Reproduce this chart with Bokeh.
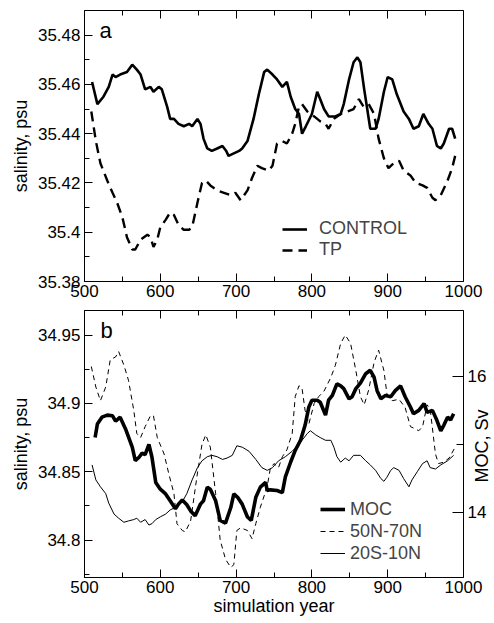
import math
from bokeh.plotting import figure
from bokeh.layouts import column
from bokeh.models import (Range1d, LinearAxis, FixedTicker, CustomJSTickFormatter,
                          Legend, LegendItem, Label)
from bokeh.embed import file_html
from bokeh.resources import INLINE

# ---------------- data ----------------
ctl_year = [510,517,525,532,537,541,547,556,563,569,574,580,587,591,598,602,609,613,618,624,
            631,638,642,649,653,657,662,668,675,682,687,690,697,704,708,715,723,730,737,741,
            748,754,761,767,772,778,783,787,792,800,807,811,816,822,831,838,842,849,855,860,
            864,869,873,877,884,888,895,900,906,912,921,928,934,941,947,954,959,965,970,974,
            981,985,989]
ctl_sal = [35.461,35.452,35.455,35.459,35.464,35.463,35.464,35.465,35.468,35.466,
           35.464,35.458,35.459,35.457,35.459,35.458,35.451,35.446,35.446,35.444,
           35.443,35.444,35.443,35.446,35.444,35.438,35.434,35.433,35.434,35.435,
           35.433,35.431,35.432,35.433,35.434,35.437,35.446,35.456,35.465,35.466,
           35.464,35.462,35.459,35.461,35.455,35.450,35.448,35.440,35.443,35.448,
           35.457,35.454,35.450,35.447,35.447,35.448,35.452,35.462,35.469,35.471,
           35.469,35.458,35.450,35.442,35.442,35.446,35.457,35.463,35.462,35.456,
           35.449,35.446,35.442,35.443,35.448,35.444,35.442,35.435,35.434,35.436,
           35.442,35.442,35.438]

tp_year = [509,515,521,530,537,543,550,556,563,567,574,583,587,591,596,600,607,613,618,624,
           631,638,642,649,655,660,666,675,684,693,699,706,715,721,728,734,743,748,754,761,
           767,774,778,783,787,794,803,811,818,822,829,838,847,855,862,868,875,882,888,895,
           901,908,915,921,930,937,946,952,959,963,970,979,985,989]
tp_sal = [35.449,35.437,35.428,35.421,35.416,35.412,35.406,35.398,35.393,35.393,
          35.397,35.399,35.398,35.394,35.397,35.402,35.405,35.408,35.407,35.403,
          35.401,35.401,35.402,35.412,35.420,35.421,35.419,35.417,35.416,35.415,
          35.416,35.413,35.417,35.422,35.427,35.426,35.425,35.427,35.436,35.437,
          35.436,35.440,35.444,35.451,35.452,35.449,35.447,35.445,35.444,35.442,
          35.446,35.448,35.449,35.450,35.454,35.451,35.452,35.448,35.438,35.430,
          35.426,35.428,35.429,35.425,35.423,35.420,35.419,35.418,35.414,35.413,
          35.415,35.421,35.426,35.431]

moc_year = [514,517,523,530,537,541,547,554,563,567,572,576,580,585,589,594,600,607,613,620,
            624,629,635,640,646,653,657,662,666,673,679,686,693,697,702,708,715,720,726,732,
            739,741,745,754,761,765,772,778,785,791,796,800,807,811,818,822,827,833,838,842,
            849,853,858,864,871,877,882,886,891,897,904,910,917,923,930,934,941,948,952,959,
            965,970,974,979,983,987]
moc_sv = [15.10,15.30,15.40,15.43,15.42,15.34,15.40,15.23,14.96,14.76,
          14.81,14.87,14.85,15.00,14.81,14.44,14.34,14.27,14.17,14.05,
          14.12,14.18,14.11,14.02,13.95,14.12,14.17,14.37,14.34,14.17,
          13.88,13.84,14.07,14.27,14.22,14.12,13.93,13.88,14.22,14.37,
          14.44,14.32,14.33,14.32,14.29,14.52,14.74,14.91,15.06,15.28,
          15.55,15.65,15.65,15.62,15.43,15.65,15.72,15.89,15.86,15.82,
          15.67,15.70,15.82,15.90,16.04,16.09,15.99,15.79,15.67,15.72,
          15.70,15.79,15.86,15.70,15.55,15.45,15.50,15.60,15.47,15.50,
          15.35,15.20,15.28,15.40,15.36,15.45]

n_year = [509,515,521,528,534,541,545,552,558,565,569,574,580,587,591,596,605,611,618,622,
          629,633,640,649,655,660,666,673,679,686,693,697,701,706,715,721,726,732,741,745,
          750,756,761,767,774,778,783,787,791,796,803,809,816,825,831,838,844,851,858,864,
          869,875,882,888,895,899,906,915,923,930,934,941,946,952,956,963,967,974,981,989]
n_sal = [34.927,34.912,34.902,34.912,34.932,34.934,34.938,34.928,34.917,34.895,
         34.878,34.875,34.883,34.891,34.891,34.875,34.863,34.849,34.834,34.812,
         34.807,34.806,34.814,34.849,34.870,34.877,34.868,34.834,34.800,34.786,
         34.780,34.782,34.807,34.809,34.807,34.801,34.812,34.824,34.839,34.852,
         34.856,34.853,34.861,34.866,34.878,34.905,34.913,34.911,34.895,34.885,
         34.900,34.905,34.909,34.919,34.928,34.944,34.950,34.944,34.924,34.905,
         34.899,34.910,34.930,34.939,34.924,34.907,34.902,34.903,34.897,34.883,
         34.882,34.880,34.883,34.899,34.896,34.863,34.856,34.857,34.860,34.868]

s_year = [510,515,521,528,532,539,545,552,558,565,569,574,580,585,589,594,600,607,613,620,
          629,635,642,649,655,662,668,675,682,688,695,701,708,717,726,734,741,748,756,765,
          774,781,787,794,798,805,811,818,825,829,833,838,844,849,855,864,871,877,884,891,
          895,899,904,908,915,921,928,932,939,946,952,956,963,970,979,987]
s_sal = [34.855,34.844,34.839,34.834,34.827,34.819,34.816,34.813,34.814,34.815,
         34.816,34.813,34.815,34.811,34.812,34.815,34.817,34.819,34.822,34.824,
         34.828,34.834,34.844,34.853,34.858,34.861,34.862,34.861,34.859,34.860,
         34.862,34.869,34.868,34.865,34.859,34.853,34.851,34.853,34.858,34.861,
         34.865,34.869,34.873,34.878,34.880,34.877,34.875,34.873,34.873,34.868,
         34.861,34.857,34.860,34.858,34.862,34.862,34.858,34.855,34.851,34.845,
         34.843,34.846,34.851,34.853,34.851,34.845,34.839,34.844,34.850,34.856,
         34.858,34.853,34.852,34.855,34.858,34.862]

x_ticks = [500, 600, 700, 800, 900, 1000]
x_minor = [550, 650, 750, 850, 950]
a_ticks = [35.38, 35.40, 35.42, 35.44, 35.46, 35.48]
a_minor = [35.39, 35.41, 35.43, 35.45, 35.47]
b_ticks = [34.80, 34.85, 34.90, 34.95]
b_minor = [34.775, 34.825, 34.875, 34.925]
moc_ticks = [14, 16]
moc_minor = [15]

FONT = "Liberation Sans"
fmt_code = "var s = tick.toFixed(3); s = s.replace(/0+$/, ''); s = s.replace(/\\.$/, ''); return s;"


def style_axis(ax, tick_in=8, minor_in=5):
    ax.major_tick_in = tick_in
    ax.major_tick_out = 0
    ax.minor_tick_in = minor_in
    ax.minor_tick_out = 0
    ax.axis_line_color = "black"
    ax.major_tick_line_color = "black"
    ax.minor_tick_line_color = "black"
    ax.major_label_text_font = FONT
    ax.major_label_text_font_size = "17px"
    ax.major_label_text_color = "black"
    ax.axis_label_text_font = FONT
    ax.axis_label_text_font_size = "18px"
    ax.axis_label_text_font_style = "normal"
    ax.axis_label_text_color = "black"


def tick_only_axis(p, ticks, length, place):
    # an axis that carries only (minor) tick marks and no text
    ax = LinearAxis(ticker=FixedTicker(ticks=[], minor_ticks=ticks))
    ax.axis_line_color = None
    ax.major_tick_line_color = None
    ax.minor_tick_in = length
    ax.minor_tick_out = 0
    ax.minor_tick_line_color = "black"
    ax.major_label_standoff = 0
    p.add_layout(ax, place)


def base_fig(height, yr, b_top, b_bottom, b_right):
    p = figure(frame_width=379, frame_height=height, x_range=Range1d(500, 1000), y_range=yr,
               output_backend="svg", toolbar_location=None, x_axis_location=None,
               y_axis_location=None, min_border_left=84, min_border_top=b_top,
               min_border_bottom=b_bottom, min_border_right=b_right)
    p.xgrid.visible = False
    p.ygrid.visible = False
    p.outline_line_color = "black"
    p.outline_line_width = 1
    p.background_fill_color = "white"
    p.border_fill_color = "white"
    xb = LinearAxis(ticker=FixedTicker(ticks=x_ticks, minor_ticks=x_minor), major_label_standoff=3)
    style_axis(xb)
    p.add_layout(xb, "below")
    tick_only_axis(p, x_ticks, 8, "above")
    tick_only_axis(p, x_minor, 5, "above")
    return p, xb

# ---------------- panel a ----------------
p1, _ = base_fig(271, Range1d(35.38, 35.49), 10, 22, 31)
ya = LinearAxis(ticker=FixedTicker(ticks=a_ticks, minor_ticks=a_minor),
                formatter=CustomJSTickFormatter(code=fmt_code),
                axis_label="salinity, psu", major_label_standoff=4, axis_label_standoff=4)
style_axis(ya)
p1.add_layout(ya, "left")

r_ctl = p1.line(ctl_year, ctl_sal, line_color="black", line_width=2.6)
r_tp = p1.line(tp_year, tp_sal, line_color="black", line_width=2.4, line_dash="10 6")

leg1 = Legend(items=[LegendItem(label="CONTROL", renderers=[r_ctl]),
                     LegendItem(label="TP", renderers=[r_tp])],
              location=(198, 21), padding=0, margin=0, spacing=0,
              label_height=20, glyph_height=20, glyph_width=25, label_standoff=12,
              label_text_font=FONT, label_text_font_size="18px",
              border_line_alpha=0, background_fill_alpha=0)
p1.add_layout(leg1, "center")
p1.add_layout(Label(x=519.8, y=35.4819, text="a", text_font=FONT, text_font_size="22px",
                    text_baseline="alphabetic", text_color="black"))

# ---------------- panel b ----------------
p2, xb2 = base_fig(267, Range1d(34.7726, 34.968), 7, 38, 31)
xb2.axis_label = "simulation year"
xb2.axis_label_standoff = 0
p2.extra_y_ranges = {"moc": Range1d(13.04, 16.97)}
yb = LinearAxis(ticker=FixedTicker(ticks=b_ticks, minor_ticks=b_minor),
                formatter=CustomJSTickFormatter(code=fmt_code),
                axis_label="salinity, psu", major_label_standoff=4, axis_label_standoff=4)
style_axis(yb)
p2.add_layout(yb, "left")

moc_label = "MOC, Sv"
yr = LinearAxis(y_range_name="moc", ticker=FixedTicker(ticks=moc_ticks, minor_ticks=moc_minor),
                major_label_standoff=4, axis_label_standoff=-7)
style_axis(yr, tick_in=11, minor_in=7)
yr.axis_line_color = None
yr.axis_label_text_line_height = 0.7
try:
    yr.axis_label_orientation = math.pi / 2
    yr.axis_label_align = "start"
    # label text starts at the bottom of the axis and runs upward: pad it to sit mid-axis
    yr.axis_label = "\u00a0" * 19 + moc_label
except Exception:
    yr.axis_label = moc_label
p2.add_layout(yr, "right")

r_moc = p2.line(moc_year, moc_sv, y_range_name="moc", line_color="black", line_width=3.6)
r_n = p2.line(n_year, n_sal, line_color="black", line_width=1, line_dash="5 4")
r_s = p2.line(s_year, s_sal, line_color="black", line_width=1)

leg2 = Legend(items=[LegendItem(label="MOC", renderers=[r_moc]),
                     LegendItem(label="50N-70N", renderers=[r_n]),
                     LegendItem(label="20S-10N", renderers=[r_s])],
              location=(236, 13), padding=0, margin=0, spacing=0,
              label_height=22, glyph_height=22, glyph_width=25, label_standoff=5,
              label_text_font=FONT, label_text_font_size="18px",
              border_line_alpha=0, background_fill_alpha=0)
p2.add_layout(leg2, "center")
p2.add_layout(Label(x=521, y=34.9534, text="b", text_font=FONT, text_font_size="22px",
                    text_baseline="alphabetic", text_color="black"))

layout = column(p1, p2, spacing=0)
open("out.html", "w").write(file_html(layout, INLINE))
